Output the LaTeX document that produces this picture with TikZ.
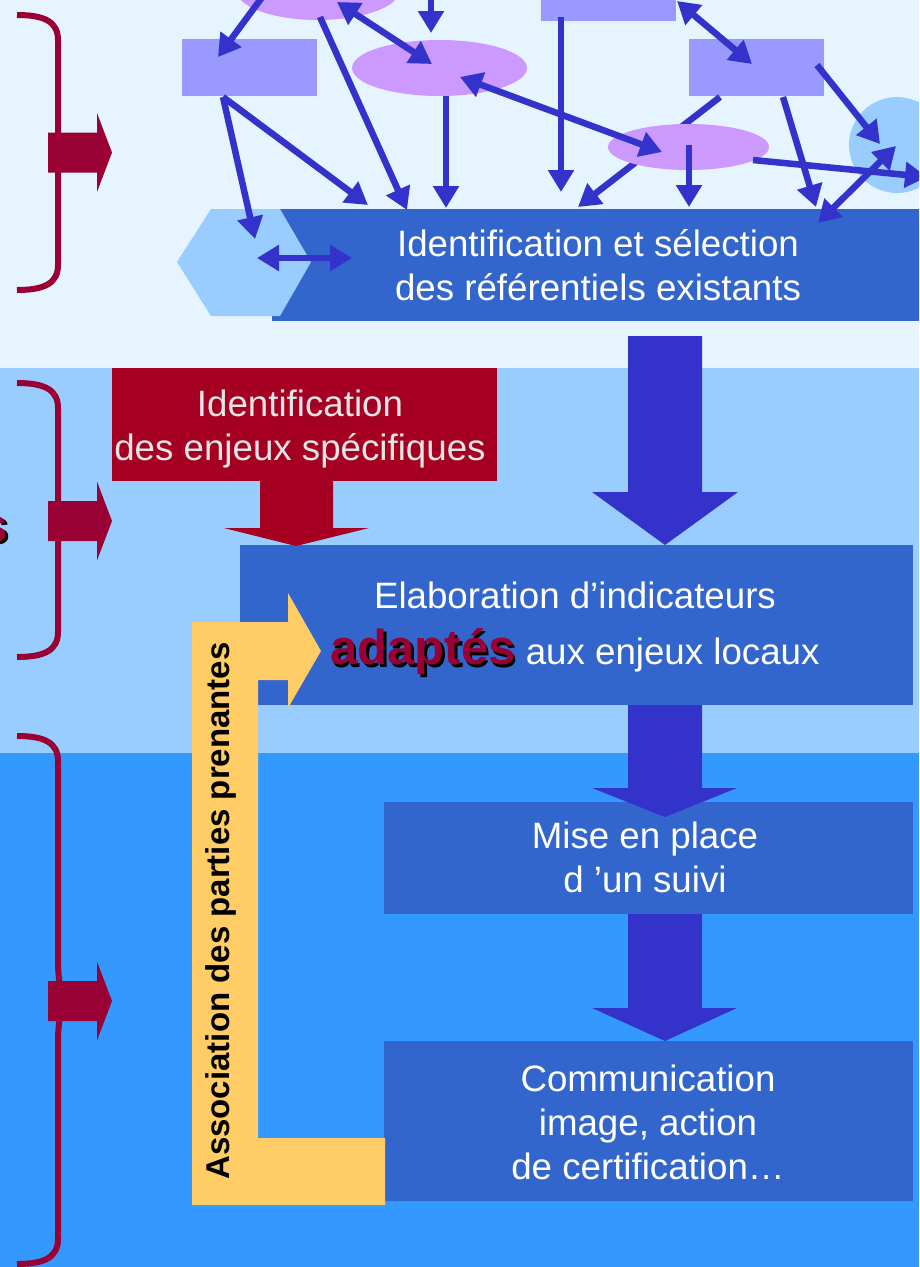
\documentclass[tikz,border=0pt]{standalone}
\usepackage{fontspec}
\setmainfont{Liberation Sans}
\usetikzlibrary{arrows.meta,shapes.geometric,calc}
\definecolor{bgA}{HTML}{E6F4FF}
\definecolor{bgB}{HTML}{99CCFF}
\definecolor{bgC}{HTML}{3399FF}
\definecolor{boxblue}{HTML}{3366CC}
\definecolor{arrblue}{HTML}{3333CC}
\definecolor{lav}{HTML}{9999FF}
\definecolor{purp}{HTML}{CC99FF}
\definecolor{lblue}{HTML}{99CCFF}
\definecolor{redbox}{HTML}{A50021}
\definecolor{bordeaux}{HTML}{990033}
\definecolor{yel}{HTML}{FFCC66}
\definecolor{adred}{HTML}{990033}
\newcommand{\shtext}[1]{\makebox[0pt][l]{\kern2.5pt\raisebox{-2.5pt}{\textcolor{black}{#1}}}\textcolor{adred}{#1}}
\begin{document}
\begin{tikzpicture}[x=1pt,y=-1pt,
  net/.style={line width=6.5pt, draw=arrblue},
  >={Triangle[length=22pt,width=25pt]},
  lavbox/.style={fill=lav, inner sep=0pt, minimum width=135pt, minimum height=57pt},
  purpell/.style={ellipse, fill=purp, inner sep=0pt},
  bluebox/.style={fill=boxblue, inner sep=0pt},
  txt/.style={text=white, align=center, inner sep=0pt, font=\fontsize{36.7}{44}\selectfont},
  brace/.style={draw=bordeaux, line width=6pt},
  bigarrow/.style={fill=arrblue}]
\useasboundingbox (0,0) rectangle (919,1267);
\clip (0,0) rectangle (919,1267);
% bands
\fill[bgA] (0,0) rectangle (919,368);
\fill[bgB] (0,368) rectangle (919,753);
\fill[bgC] (0,753) rectangle (919,1267);
% braces
\draw[brace] (17,15) .. controls (45,15) and (58,22) .. (58,40) -- (58,265) .. controls (58,283) and (45,290) .. (17,290);
\draw[brace] (17,383) .. controls (45,383) and (58,390) .. (58,408) -- (58,632) .. controls (58,650) and (45,657) .. (17,657);
\draw[brace] (17,736) .. controls (45,736) and (58,743) .. (58,761) -- (58,960) .. controls (58,985) and (62,1001) .. (75,1001) .. controls (62,1001) and (58,1017) .. (58,1042) -- (58,1239) .. controls (58,1257) and (45,1264) .. (17,1264);
\foreach \c in {152.5,521,1001}{
  \fill[bordeaux] (48,\c-20) -- (97,\c-20) -- (97,\c-39.5) -- (112,\c) -- (97,\c+39.5) -- (97,\c+20) -- (48,\c+20) -- cycle;}
\node[anchor=base east, inner sep=0pt, font=\fontsize{49}{56}\selectfont\bfseries] (sfrag) at (8,542) {\shtext{s}};
% network nodes
\node[purpell, minimum width=164pt, minimum height=60pt] (eTL) at (318,-10) {};
\node[lavbox] (rL) at (249.5,67.5) {};
\node[purpell, minimum width=175pt, minimum height=56pt] (eM) at (439.5,68) {};
\node[lavbox] (rTM) at (608.5,-7.5) {};
\node[lavbox] (rR) at (756.5,67.5) {};
\node[bluebox, minimum width=652pt, minimum height=112pt] (sel) at (598,265) {};
\coordinate (off1) at (431,-25);
\coordinate (offR) at (927,177);
\draw[net,->] ($(rR)+(-36.5,29.5)$) -- ($(sel)+(-20,-58)$);
\node[purpell, minimum width=161pt, minimum height=46pt] (eR) at (688.5,147) {};
\node[circle, fill=lblue, inner sep=0pt, minimum size=96pt] (cR) at (897,145) {};
\fill[lblue] (177,262) -- (211,209) -- (280,209) -- (311,262) -- (280,316) -- (211,316) -- cycle;
\coordinate (hex) at (244,262);
% network connectors
\draw[net,->] ($(eTL)+(-55,6)$) -- ($(rL)+(-31.5,-10.5)$);
\draw[net,->] ($(eTL)+(2,27)$) -- ($(sel)+(-191,-55)$);
\draw[net,<->] ($(eTL)+(19,12)$) -- ($(eM)+(-7.5,-4)$);
\draw[net,->] (off1) -- ($(eM)+(-8.5,-35)$);
\draw[net,->] ($(rL)+(-26.5,29.5)$) -- ($(hex)+(11,-23)$);
\draw[net,->] ($(rL)+(-26.5,29.5)$) -- ($(sel)+(-230,-60)$);
\draw[net,->] ($(eM)+(6.5,28)$) -- ($(sel)+(-152,-57)$);
\draw[net,<->] ($(eM)+(20.5,9)$) -- ($(eR)+(-26.5,5)$);
\draw[net,->] ($(rTM)+(-47.5,24.5)$) -- ($(sel)+(-37,-73)$);
\draw[net,<->] ($(rTM)+(68.5,8.5)$) -- ($(rR)+(-4.5,-3.5)$);
\draw[net,->] ($(eR)+(0.5,-2)$) -- ($(sel)+(91,-58)$);
\draw[net,->] ($(rR)+(26.5,29.5)$) -- ($(sel)+(218,-58)$);
\draw[net,->] ($(rR)+(60.5,-2.5)$) -- ($(cR)+(-17,-1)$);
\draw[net,->] ($(eR)+(64.5,13)$) -- (offR);
\draw[net,<->] ($(sel)+(220,-42)$) -- ($(cR)+(-1,1)$);
\draw[net,<->] ($(hex)+(13,-4)$) -- ($(sel)+(-246,-7)$);
\node[txt] (selt) at (598,265.5) {Identification et sélection\\des référentiels existants};
% lower boxes
\node[fill=redbox, inner sep=0pt, minimum width=385pt, minimum height=113pt] (enj) at (304.5,424.5) {};
\node[txt, text=white!90!black] (enjt) at (300,429) {Identification\\des enjeux spécifiques};
\node[bluebox, minimum width=673pt, minimum height=160pt] (ela) at (576.5,625) {};
\node[bluebox, minimum width=529pt, minimum height=112pt] (mise) at (648.5,858) {};
\node[bluebox, minimum width=529pt, minimum height=160pt] (comm) at (648.5,1121) {};
% block arrows
\fill[redbox] (260,481) -- (333,481) -- (333,528) -- (369,528) -- (296,546) -- (224,528) -- (260,528) -- cycle;
\fill[bigarrow] (628,336) -- (702,336) -- (702,492) -- (738,492) -- (665,545) -- (592,492) -- (628,492) -- cycle;
\fill[bigarrow] (628,705) -- (702,705) -- (702,788) -- (737,788) -- (665,817) -- (592,788) -- (628,788) -- cycle;
\fill[bigarrow] (628,914) -- (702,914) -- (702,1008) -- (737,1008) -- (665,1041) -- (592,1008) -- (628,1008) -- cycle;
% texts
\node[txt, font=\fontsize{36.7}{56}\selectfont] (elat) at (575,630) {Elaboration d’indicateurs\\{\fontsize{49}{56}\selectfont\bfseries\shtext{adaptés}} aux enjeux locaux};
\node[txt] (miset) at (645,857.5) {Mise en place\\d ’un suivi};
\node[txt] (commt) at (648,1122) {Communication\\image, action\\de certification…};
% yellow L arrow
\fill[yel] (192,622) -- (288,622) -- (288,593) -- (321,651) -- (288,708) -- (288,680) -- (258,680) -- (258,1138) -- (385,1138) -- (385,1205) -- (192,1205) -- cycle;
\node[rotate=90, inner sep=0pt, font=\fontsize{33}{40}\selectfont\bfseries] (assoc) at (221,911) {Association des parties prenantes};
\end{tikzpicture}
\end{document}
